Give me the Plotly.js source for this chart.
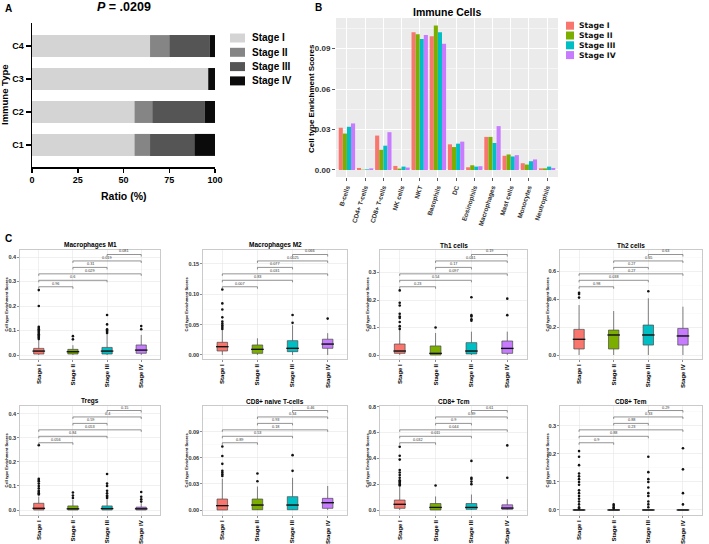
<!DOCTYPE html>
<html><head><meta charset="utf-8">
<script src="https://cdn.plot.ly/plotly-3.0.1.min.js"></script>
<style>html,body{margin:0;padding:0;background:#fff}#chart{width:709px;height:544px}</style>
</head><body><div id="chart"></div>
<script>
// ---------------- DATA ----------------
// Panel A
const stages = ['Stage I','Stage II','Stage III','Stage IV'];
const immuneTypes = ['C1','C2','C3','C4'];
const ratioStageI   = [56.0, 56.0, 96.3, 64.5];
const ratioStageII  = [8.5, 9.7, 0.0, 10.5];
const ratioStageIII = [24.2, 28.8, 0.0, 22.0];
const ratioStageIV  = [11.3, 5.5, 3.7, 3.0];
const grayColors = ['#d4d4d4','#858585','#555555','#0b0b0b'];

// Panel B
const cellTypes = ['B-cells','CD4+ T-cells','CD8+ T-cells','NK cells','NKT','Basophils','DC','Eosinophils','Macrophages','Mast cells','Monocytes','Neutrophils'];
const scoreStageI   = [0.0313,0.0015,0.0255,0.0030,0.1020,0.0990,0.0190,0.0020,0.0245,0.0105,0.0050,0.0012];
const scoreStageII  = [0.0270,0.0003,0.0150,0.0010,0.1005,0.1070,0.0170,0.0035,0.0245,0.0115,0.0040,0.0012];
const scoreStageIII = [0.0320,0.0005,0.0180,0.0025,0.0970,0.1020,0.0195,0.0025,0.0200,0.0100,0.0065,0.0025];
const scoreStageIV  = [0.0345,0.0012,0.0280,0.0018,0.1000,0.0935,0.0210,0.0028,0.0325,0.0110,0.0078,0.0015];
const hueColors = ['#F8766D','#7CAE00','#00BFC4','#C77CFF'];

// Panel C
const panelTitles = ['Macrophages M1','Macrophages M2','Th1 cells','Th2 cells','Tregs','CD8+ naive T-cells','CD8+ Tcm','CD8+ Tem'];
const comparisons = [[2,3],[1,3],[1,2],[0,3],[0,2],[0,1]];

const m1Q1 = [0.004,0.004,0.004,0.007], m1Med = [0.016,0.0135,0.016,0.020], m1Q3 = [0.027,0.023,0.031,0.041];
const m1Lo = [0,0,0,0], m1Hi = [0.060,0.040,0.088,0.082];
const m1Out = [[0.065,0.07,0.075,0.08,0.085,0.09,0.095,0.10,0.105,0.11,0.115,0.20,0.265],[0.064,0.077],[0.09,0.095,0.10,0.105,0.125,0.163],[0.105,0.118]];
const m1P = ['0.081','0.019','0.31','0.029','0.6','0.96'];

const m2Q1 = [0.0066,0.0027,0.0055,0.011], m2Med = [0.0137,0.0093,0.011,0.018], m2Q3 = [0.0209,0.0165,0.0236,0.026];
const m2Lo = [0,0,0,0], m2Hi = [0.041,0.0275,0.049,0.036];
const m2Out = [[0.043,0.046,0.049,0.052,0.055,0.062,0.075,0.085,0.108],[],[0.053,0.066],[0.060]];
const m2P = ['0.066','0.0025','0.077','0.031','0.83','0.007'];

const th1Q1 = [0.006,0.0,0.004,0.006], th1Med = [0.0145,0.006,0.0145,0.024], th1Q3 = [0.040,0.033,0.045,0.051];
const th1Lo = [0,0,0,0], th1Hi = [0.091,0.080,0.085,0.085];
const th1Out = [[0.095,0.105,0.12,0.135,0.14,0.15,0.18,0.19,0.235],[0.10],[0.125,0.13,0.14,0.145,0.21],[0.145,0.205]];
const th1P = ['0.19','0.041','0.17','0.097','0.54','0.23'];

const th2Q1 = [0.043,0.043,0.071,0.071], th2Med = [0.112,0.143,0.143,0.136], th2Q3 = [0.183,0.178,0.214,0.190];
const th2Lo = [0,0,0,0], th2Hi = [0.357,0.314,0.405,0.345];
const th2Out = [[0.41,0.435,0.445],[],[0.455],[]];
const th2P = ['0.63','0.65','0.27','0.27','0.038','0.98'];

const tregQ1 = [0,0,0,0], tregMed = [0.007,0.005,0.006,0.005], tregQ3 = [0.028,0.017,0.017,0.012];
const tregLo = [0,0,0,0], tregHi = [0.056,0.042,0.044,0.028];
const tregOut = [[0.065,0.07,0.075,0.08,0.09,0.10,0.11,0.12,0.125,0.13,0.27],[0.05,0.06,0.073],[0.05,0.055,0.06,0.07,0.08,0.10,0.11,0.15],[0.035,0.045,0.055,0.075]];
const tregP = ['0.15','0.4','0.59','0.053','0.84','0.056'];

const naiveQ1 = [0,0.0003,0.0003,0.0019], naiveMed = [0.005,0.0057,0.0057,0.0084], naiveQ3 = [0.0126,0.0126,0.0153,0.0134];
const naiveLo = [0,0,0,0], naiveHi = [0.036,0.027,0.037,0.0276];
const naiveOut = [[0.039,0.041,0.043,0.045,0.053,0.062,0.073],[0.033,0.042],[0.045,0.063],[]];
const naiveP = ['0.46','0.34','0.93','0.18','0.53','0.89'];

const tcmQ1 = [0.013,0,0.005,0.005], tcmMed = [0.044,0.020,0.020,0.015], tcmQ3 = [0.077,0.050,0.050,0.040];
const tcmLo = [0,0,0,0], tcmHi = [0.18,0.105,0.12,0.083];
const tcmOut = [[0.19,0.20,0.21,0.22,0.23,0.25,0.27,0.29,0.31,0.39,0.42,0.49],[0.19],[0.20,0.22,0.24,0.25,0.38],[0.25,0.50]];
const tcmP = ['0.61','0.89','0.9','0.044','0.011','0.032'];

const temQ1 = [0,0,0,0], temMed = [0,0,0,0], temQ3 = [0,0,0,0];
const temLo = [0,0,0,0], temHi = [0,0,0,0];
const temOut = [[0.005,0.01,0.02,0.03,0.04,0.05,0.06,0.07,0.09,0.10,0.11,0.12,0.13,0.16,0.19,0.21],[0.005,0.01,0.015,0.02],[0.01,0.02,0.03,0.05,0.06,0.08,0.10,0.11,0.135,0.19],[0.02,0.06,0.145,0.22]];
const temP = ['0.29','0.33','0.88','0.23','0.88','0.9'];

// ---------------- LAYOUT HELPERS ----------------
const W = 709, H = 544;
const px = x => x / W, py = y => 1 - y / H;
const FAM = 'Liberation Sans, Arial, sans-serif';
const F = (size, extra) => Object.assign({family: FAM, size: size, color: '#000', weight: 'bold'}, extra || {});

const traces = [], shapes = [], annotations = [];
const layout = {
  width: W, height: H, margin: {l: 0, r: 0, t: 0, b: 0},
  paper_bgcolor: '#ffffff', plot_bgcolor: 'rgba(0,0,0,0)',
  showlegend: false, barmode: 'group', bargap: 0.1, bargroupgap: 0,
  font: {family: FAM}
};
const ann = o => annotations.push(Object.assign({showarrow: false, xref: 'paper', yref: 'paper',
  xanchor: 'center', yanchor: 'middle', borderpad: 0}, o));

// ---------------- PANEL A ----------------
const ratioByStage = [ratioStageI, ratioStageII, ratioStageIII, ratioStageIV];
ratioByStage.forEach((vals, s) => {
  const base = vals.map((v, i) => ratioByStage.slice(0, s).reduce((a, arr) => a + arr[i], 0));
  traces.push({type: 'bar', orientation: 'h', x: vals, y: immuneTypes, base: base, width: 0.667,
    offsetgroup: 'A', marker: {color: grayColors[s], line: {width: 0}}, xaxis: 'x', yaxis: 'y', hoverinfo: 'skip'});
});
layout.xaxis = {domain: [px(32), px(215)], anchor: 'y', range: [0, 100], tickvals: [0, 25, 50, 75, 100],
  ticks: 'outside', ticklen: 4, tickwidth: 1.5, tickcolor: '#000', showline: true, linewidth: 1.5, linecolor: '#000',
  showgrid: false, zeroline: false, tickfont: F(9)};
layout.yaxis = {domain: [py(167), py(23)], anchor: 'x', type: 'category', categoryarray: immuneTypes, range: [-0.67, 3.7],
  ticks: 'outside', ticklen: 5, tickwidth: 1.5, tickcolor: '#000', showline: true, linewidth: 1.5, linecolor: '#000',
  showgrid: false, zeroline: false, tickfont: F(9)};
ann({text: 'A', x: px(8), y: py(8.5), font: F(10)});
ann({text: '<i>P</i> = .0209', x: px(124), y: py(7), font: F(12.5)});
ann({text: 'Ratio (%)', x: px(123.5), y: py(196), font: F(10.5)});
ann({text: 'Immune Type', x: px(5), y: py(95), textangle: -90, font: F(9.5)});
stages.forEach((s, i) => {
  const yc = 38 + 14.3 * i;
  shapes.push({type: 'rect', xref: 'paper', yref: 'paper', x0: px(230), x1: px(245), y0: py(yc + 4.5), y1: py(yc - 4.5),
    fillcolor: grayColors[i], line: {width: 0}});
  ann({text: s, x: px(251), y: py(yc), xanchor: 'left', font: F(10)});
});

// ---------------- PANEL B ----------------
const scoreByStage = [scoreStageI, scoreStageII, scoreStageIII, scoreStageIV];
scoreByStage.forEach((vals, s) => {
  traces.push({type: 'bar', x: cellTypes, y: vals, name: stages[s], marker: {color: hueColors[s], line: {width: 0}},
    xaxis: 'x2', yaxis: 'y2', hoverinfo: 'skip'});
});
layout.xaxis2 = {domain: [px(336), px(558)], anchor: 'y2', type: 'category', categoryarray: cellTypes, range: [-0.6, 11.6],
  tickangle: -72, tickfont: F(6.5, {color: '#333'}), ticks: 'outside', ticklen: 3, tickcolor: '#333', tickwidth: 0.8,
  showgrid: true, gridcolor: '#ffffff', gridwidth: 1, showline: false, zeroline: false};
layout.yaxis2 = {domain: [py(177), py(18)], anchor: 'x2', range: [-0.0052, 0.1126], tick0: 0, dtick: 0.03, tickformat: '.2f',
  tickfont: F(8, {color: '#333'}), ticks: 'outside', ticklen: 3, tickcolor: '#333', tickwidth: 0.8,
  showgrid: true, gridcolor: '#ffffff', gridwidth: 1, zeroline: false, showline: false,
  minor: {tick0: 0, dtick: 0.015, showgrid: true, gridcolor: '#ffffff', gridwidth: 0.5, ticks: ''}};
shapes.push({type: 'rect', xref: 'x2 domain', yref: 'y2 domain', x0: 0, x1: 1, y0: 0, y1: 1, fillcolor: '#EBEBEB', line: {width: 0}, layer: 'below'});
ann({text: 'B', x: px(318), y: py(8), font: F(10)});
ann({text: 'Immune Cells', x: px(447), y: py(12), font: F(10.5)});
ann({text: 'Cell type Enrichment Scores', x: px(311), y: py(99), textangle: -90, font: F(8)});
stages.forEach((s, i) => {
  const yc = 25.7 + 9.8 * i;
  shapes.push({type: 'rect', xref: 'paper', yref: 'paper', x0: px(566), x1: px(574), y0: py(yc + 4), y1: py(yc - 4),
    fillcolor: hueColors[i], line: {width: 0}});
  ann({text: s, x: px(577.5), y: py(yc), xanchor: 'left', font: F(7.7, {family: 'DejaVu Sans', color: '#111'})});
});

// ---------------- PANEL C ----------------
const panelData = [
  [m1Q1, m1Med, m1Q3, m1Lo, m1Hi, m1Out, m1P],
  [m2Q1, m2Med, m2Q3, m2Lo, m2Hi, m2Out, m2P],
  [th1Q1, th1Med, th1Q3, th1Lo, th1Hi, th1Out, th1P],
  [th2Q1, th2Med, th2Q3, th2Lo, th2Hi, th2Out, th2P],
  [tregQ1, tregMed, tregQ3, tregLo, tregHi, tregOut, tregP],
  [naiveQ1, naiveMed, naiveQ3, naiveLo, naiveHi, naiveOut, naiveP],
  [tcmQ1, tcmMed, tcmQ3, tcmLo, tcmHi, tcmOut, tcmP],
  [temQ1, temMed, temQ3, temLo, temHi, temOut, temP]
];
const colPx = [[20, 160], [203, 347], [380, 527], [560, 702]];
const rowPx = [[250, 359], [406, 515]];
const yTitleX = [6, 186, 367, 547];
const yRanges = [[-0.0163, 0.4286], [-0.0066, 0.173], [-0.0145, 0.382], [-0.0286, 0.75],
                 [-0.0208, 0.433], [-0.00575, 0.1195], [-0.0387, 0.805], [-0.0179, 0.371]];
const yDticks = [0.1, 0.05, 0.1, 0.2, 0.1, 0.03, 0.2, 0.1];
const yFormats = ['.1f', '.2f', '.1f', '.1f', '.1f', '.2f', '.1f', '.1f'];

panelData.forEach((pd, p) => {
  const [q1, med, q3, lo, hi, outs, pv] = pd;
  const n = p + 3, col = colPx[p % 4], row = rowPx[Math.floor(p / 4)];
  const xa = 'x' + n, ya = 'y' + n;
  const rowH = row[1] - row[0];
  layout['xaxis' + n] = {domain: [px(col[0]), px(col[1])], anchor: ya, type: 'category', categoryarray: stages,
    range: [-0.55, 3.55], tickangle: -90, tickfont: F(6), ticks: 'outside', ticklen: 2, tickcolor: '#444', tickwidth: 0.6,
    showgrid: true, gridcolor: '#e6e6e6', gridwidth: 0.6, showline: true, mirror: true, linecolor: '#bdbdbd', linewidth: 0.8,
    zeroline: false};
  layout['yaxis' + n] = {domain: [py(row[1]), py(row[0])], anchor: xa, range: yRanges[p], tick0: 0, dtick: yDticks[p],
    tickformat: yFormats[p], tickfont: F(5.5, {color: '#333'}), ticks: 'outside', ticklen: 2, tickcolor: '#444', tickwidth: 0.6,
    showgrid: true, gridcolor: '#e6e6e6', gridwidth: 0.6, showline: true, mirror: true, linecolor: '#bdbdbd', linewidth: 0.8,
    zeroline: false, minor: {tick0: 0, dtick: yDticks[p] / 2, showgrid: true, gridcolor: '#f3f3f3', gridwidth: 0.4, ticks: ''}};
  stages.forEach((s, i) => {
    traces.push({type: 'box', x: [s], q1: [q1[i]], median: [med[i]], q3: [q3[i]], lowerfence: [lo[i]], upperfence: [hi[i]],
      boxpoints: false, width: 0.3, whiskerwidth: 0, fillcolor: hueColors[i], line: {color: '#4a4a4a', width: 0.7},
      xaxis: xa, yaxis: ya, hoverinfo: 'skip'});
    // thicker median bar, as in ggplot
    traces.push({type: 'scatter', mode: 'markers', x: [s], y: [med[i]],
      marker: {symbol: 'line-ew', size: 9, line: {color: '#111', width: 1.3}}, xaxis: xa, yaxis: ya, hoverinfo: 'skip'});
    if (outs[i].length) {
      traces.push({type: 'scatter', mode: 'markers', x: outs[i].map(() => s), y: outs[i],
        marker: {color: '#111', size: 2.6}, xaxis: xa, yaxis: ya, hoverinfo: 'skip'});
    }
  });
  comparisons.forEach(([a, b], k) => {
    const off = 4.5 + 6.45 * k;
    const yd = 1 - off / rowH, ydt = 1 - (off + 2) / rowH;
    const ln = {color: '#666', width: 0.7};
    const base = {type: 'line', xref: xa, yref: ya + ' domain', line: ln};
    shapes.push(Object.assign({}, base, {x0: a, x1: b, y0: yd, y1: yd}));
    shapes.push(Object.assign({}, base, {x0: a, x1: a, y0: yd, y1: ydt}));
    shapes.push(Object.assign({}, base, {x0: b, x1: b, y0: yd, y1: ydt}));
    annotations.push({text: pv[k], x: (a + b) / 2, y: yd, xref: xa, yref: ya + ' domain', xanchor: 'center', yanchor: 'bottom',
      showarrow: false, borderpad: 0, font: {family: FAM, size: 3.8, color: '#333'}});
  });
  ann({text: panelTitles[p], x: px((col[0] + col[1]) / 2), y: py(row[0] - 0.5), yanchor: 'bottom', font: F(6.5)});
  ann({text: 'Cell type Enrichment Scores', x: px(yTitleX[p % 4]), y: py((row[0] + row[1]) / 2), textangle: -90, font: F(4)});
});
ann({text: 'C', x: px(8), y: py(238), font: F(10)});

layout.shapes = shapes;
layout.annotations = annotations;
Plotly.newPlot('chart', traces, layout, {staticPlot: true, displayModeBar: false});
</script>
</body></html>
